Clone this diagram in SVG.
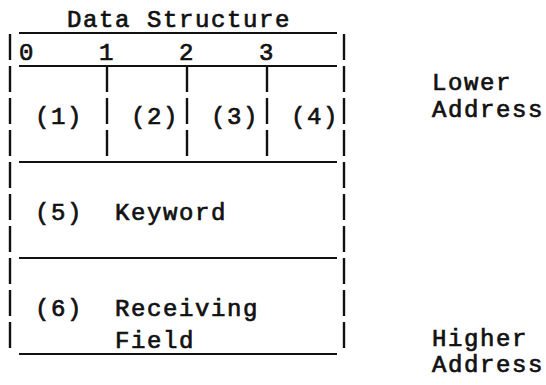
<svg xmlns="http://www.w3.org/2000/svg" width="546" height="385" viewBox="0 0 546 385">
<style>
text{font-family:"Liberation Mono","DejaVu Sans Mono",monospace;font-size:24px;letter-spacing:1.6px;fill:#111;stroke:#111;stroke-width:0.7}
.h{stroke:#111;stroke-width:2.2;fill:none}
.v{stroke:#111;stroke-width:2.4;fill:none;stroke-dasharray:26 6}
</style>
<rect width="546" height="385" fill="#fff"/>
<g id="title"><text x="67" y="27">Data Structure</text></g>
<g id="byte-offsets">
<text x="19" y="60">0</text><text x="99" y="60">1</text><text x="179" y="60">2</text><text x="259" y="60">3</text>
</g>
<g id="connectors">
<line class="h" x1="19" y1="33" x2="337" y2="33"/>
<line class="h" x1="19" y1="66" x2="337" y2="66"/>
<line class="h" x1="19" y1="162" x2="337" y2="162"/>
<line class="h" x1="19" y1="258" x2="337" y2="258"/>
<line class="h" x1="19" y1="354" x2="337" y2="354"/>
<line class="v" x1="10" y1="34" x2="10" y2="348"/>
<line class="v" x1="344" y1="34" x2="344" y2="348"/>
<line class="v" x1="107" y1="66" x2="107" y2="156"/>
<line class="v" x1="187" y1="66" x2="187" y2="156"/>
<line class="v" x1="267" y1="66" x2="267" y2="156"/>
</g>
<g id="field1"><text x="35" y="124">(1)</text></g>
<g id="field2"><text x="131" y="124">(2)</text></g>
<g id="field3"><text x="211" y="124">(3)</text></g>
<g id="field4"><text x="291" y="124">(4)</text></g>
<g id="field5"><text x="35" y="220">(5)</text><text x="115" y="220">Keyword</text></g>
<g id="field6"><text x="35" y="316">(6)</text><text x="115" y="316">Receiving</text><text x="115" y="348">Field</text></g>
<g id="lower-address"><text x="432" y="90">Lower</text><text x="432" y="117">Address</text></g>
<g id="higher-address"><text x="432" y="346">Higher</text><text x="432" y="372">Address</text></g>
</svg>
